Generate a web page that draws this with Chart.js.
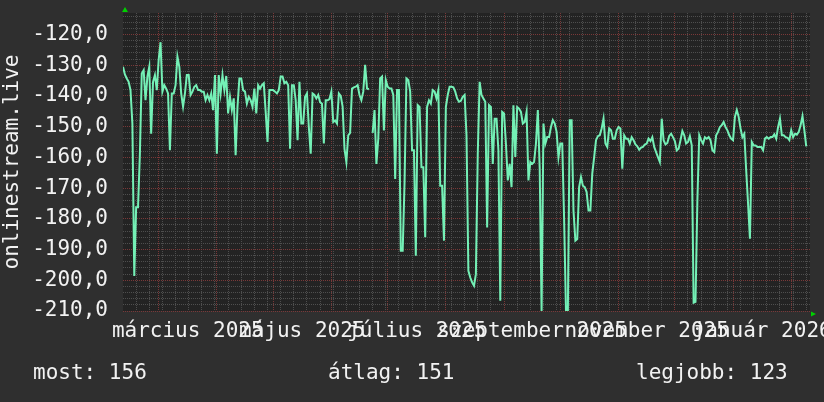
<!DOCTYPE html>
<html>
<head>
<meta charset="utf-8">
<script src="https://cdn.jsdelivr.net/npm/chart.js@4.4.0/dist/chart.umd.min.js"></script>
<style>
  html, body { margin: 0; padding: 0; background: #2f2f2f; }
  #wrap { width: 824px; height: 402px; position: relative; }
</style>
</head>
<body>
<div id="wrap"><canvas id="signalChart"></canvas></div>
<script>
// one reading per day, first one on 2025-02-10 (null = missing day)
const startDate = Date.UTC(2025, 1, 10);
const signalValues = [
  -130.5, -133.0, -134.3, -135.4, -138.1, -149.0, -198.6, -176.2, -176.2, -158.8,
  -132.7, -131.6, -141.4, -133.7, -130.5, -152.3, -135.4, -133.2, -138.1, -128.3,
  -122.5, -138.6, -136.5, -137.6, -139.2, -157.7, -139.2, -139.2, -136.5, -127.2,
  -130.5, -139.2, -143.5, -139.2, -133.2, -133.2, -139.7, -138.6, -137.0, -136.5,
  -138.1, -138.1, -138.6, -138.6, -141.4, -139.7, -141.4, -139.2, -144.6, -133.2,
  -158.8, -133.2, -139.2, -133.2, -138.1, -133.5, -145.7, -140.3, -144.6, -140.8,
  -159.3, -143.5, -134.3, -134.3, -138.1, -138.6, -142.5, -140.3, -141.4, -143.5,
  -137.6, -145.7, -136.5, -137.6, -136.5, -135.9, -145.0, -155.0, -138.1, -138.1,
  -138.1, -138.6, -139.2, -138.1, -133.7, -133.7, -135.9, -135.4, -136.5, -157.2,
  -136.5, -136.5, -141.4, -154.4, -135.4, -149.0, -149.0, -140.3, -139.2, -150.1,
  -158.8, -139.2, -139.7, -140.8, -139.7, -142.0, -142.5, -155.5, -141.4, -141.4,
  -141.0, -138.6, -148.5, -148.0, -149.0, -139.2, -140.0, -143.5, -157.2, -161.5,
  -152.8, -152.0, -137.6, -137.2, -137.0, -136.5, -139.7, -141.4, -138.6, -129.9,
  -137.6, -137.8, null, -152.0, -144.6, -162.1, -153.9, -134.3, -133.7, -151.2,
  -134.8, -137.0, -137.6, -137.6, -139.7, -167.0, -138.1, -138.1, -190.4, -190.4,
  -168.1, -134.3, -134.8, -138.6, -157.7, -157.7, -192.0, -143.0, -143.6, -163.2,
  -163.2, -186.0, -143.6, -141.4, -142.5, -138.1, -138.6, -140.8, -138.1, -169.2,
  -169.2, -187.1, -143.6, -139.7, -137.0, -137.0, -137.2, -138.6, -140.8, -141.9,
  -141.6, -140.3, -139.7, -152.8, -196.9, -199.1, -200.7, -201.8, -198.0, -158.8,
  -135.4, -139.7, -140.8, -141.9, -182.8, -143.0, -143.6, -162.1, -147.4, -147.4,
  -157.7, -206.7, -145.2, -145.7, -155.5, -167.5, -162.1, -169.7, -143.0, -159.9,
  -143.6, -144.1, -145.2, -149.0, -148.5, -145.2, -167.5, -161.5, -162.1, -161.5,
  -155.5, -144.6, -163.7, -210.0, -149.0, -155.5, -153.4, -153.4, -150.1, -147.9,
  -149.0, -151.7, -160.0, -155.5, -155.5, -180.0, -210.0, -210.0, -147.9, -147.9,
  -177.3, -187.1, -186.6, -169.7, -166.4, -169.2, -169.7, -171.3, -177.3, -177.3,
  -165.3, -160.0, -154.4, -153.1, -152.8, -150.6, -147.4, -155.5, -156.6, -150.6,
  -151.2, -153.9, -153.9, -151.2, -150.1, -150.6, -163.7, -152.8, -153.9, -153.9,
  -155.5, -153.4, -154.4, -155.8, -156.4, -157.5, -156.8, -156.6, -155.8, -155.5,
  -153.9, -154.7, -153.4, -156.6, -158.3, -159.9, -161.5, -147.4, -154.4, -155.8,
  -155.3, -153.0, -152.3, -153.4, -154.7, -157.7, -157.2, -154.4, -151.4, -152.8,
  -155.5, -155.0, -153.1, -156.1, -207.3, -207.0, -174.0, -152.8, -154.4, -155.5,
  -153.4, -153.9, -153.4, -154.4, -157.7, -158.3, -152.8, -151.7, -150.1, -149.5,
  -148.5, -150.1, -151.2, -152.8, -153.9, -154.4, -146.8, -144.6, -146.8, -150.6,
  -153.4, -152.3, -164.2, -175.0, -186.5, -155.0, -156.1, -156.1, -156.6, -156.6,
  -156.6, -157.7, -153.9, -153.4, -153.9, -153.4, -153.4, -152.5, -153.9, -150.1,
  -147.4, -152.8, -152.8, -153.4, -153.6, -154.4, -151.2, -153.4, -152.3, -152.6,
  -151.7, -149.5, -146.6, -151.2, -156.4
];

const monthLabels = ["március 2025", "május 2025", "július 2025", "szeptember 2025", "november 2025", "január 2026"];
const labelMonths = [[2025, 2], [2025, 4], [2025, 6], [2025, 8], [2025, 10], [2026, 0]]; // [year, month index]
const statLabels = ["most", "átlag", "legjobb"];
const statValues = [156, 151, 123];
const yMin = -210, yMax = -113;
const dayCount = 366;

const fontFamily = "'DejaVu Sans Mono', monospace";
const textColor = "#f2f2f2";
const redGrid = "#7a3838";
const grayGrid = "#4e4e4e";

function dayOf(y, m, d) {
  return (Date.UTC(y, m, d) - startDate) / 864e5;
}

// month starts (red lines) and mondays (gray lines)
let monthStarts = [];
for (let m = 1; m <= 13; m++) {
  let d = dayOf(2025, m, 1);
  if (d >= 0 && d <= dayCount) monthStarts.push(d);
}
let gridDays = [...monthStarts];
for (let d = dayOf(2025, 1, 17); d <= dayCount; d += 7) {
  if (!monthStarts.includes(d)) gridDays.push(d);
}
gridDays.sort((a, b) => a - b);

// labels sit in the middle of their month
let labelDays = labelMonths.map(([y, m]) => (dayOf(y, m, 1) + dayOf(y, m + 1, 1)) / 2);

let points = signalValues.map((v, i) => ({ x: i, y: v }));

const chartDecor = {
  id: "chartDecor",
  beforeDraw(chart) {
    let { ctx, chartArea: a } = chart;
    ctx.save();
    ctx.fillStyle = "#232323";
    ctx.fillRect(a.left, a.top, a.right - a.left, a.bottom - a.top);
    ctx.restore();
  },
  afterDraw(chart) {
    let { ctx, chartArea: a } = chart;
    ctx.save();
    // axis arrows
    ctx.fillStyle = "#00d000";
    ctx.beginPath();
    ctx.moveTo(a.left + 2, a.top - 6);
    ctx.lineTo(a.left - 1, a.top - 1);
    ctx.lineTo(a.left + 5, a.top - 1);
    ctx.closePath();
    ctx.fill();
    ctx.beginPath();
    ctx.moveTo(a.right + 6, a.bottom + 3);
    ctx.lineTo(a.right + 1, a.bottom + 0.5);
    ctx.lineTo(a.right + 1, a.bottom + 5.5);
    ctx.closePath();
    ctx.fill();
    // summary line under the chart
    ctx.fillStyle = textColor;
    ctx.font = "21px " + fontFamily;
    ctx.textBaseline = "middle";
    ctx.textAlign = "left";
    let xs = [33, 328, 636];
    statLabels.forEach((label, i) => {
      ctx.fillText(label + ": " + statValues[i], xs[i], 374);
    });
    ctx.restore();
  }
};

new Chart(document.getElementById("signalChart").getContext("2d"), {
  type: "line",
  data: {
    datasets: [{
      data: points,
      borderColor: "#74f0b6",
      borderWidth: 2,
      pointRadius: 0,
      tension: 0,
      spanGaps: false
    }]
  },
  options: {
    responsive: true,
    maintainAspectRatio: false,
    animation: false,
    layout: { padding: { top: 13, right: 14, left: 0, bottom: 0 } },
    plugins: {
      legend: { display: false },
      tooltip: { enabled: false }
    },
    scales: {
      x: {
        type: "linear",
        position: "bottom",
        min: 0,
        max: dayCount,
        afterBuildTicks: s => { s.ticks = gridDays.map(v => ({ value: v })); },
        afterFit: s => { s.height = 0; s.paddingLeft = 0; s.paddingRight = 0; },
        ticks: { display: false, autoSkip: false },
        grid: {
          drawTicks: false,
          color: c => monthStarts.includes(c.tick.value) ? redGrid : grayGrid
        },
        border: { display: false, dash: [1, 1] }
      },
      xLabels: {
        type: "linear",
        position: "bottom",
        min: 0,
        max: dayCount,
        afterBuildTicks: s => { s.ticks = labelDays.map(v => ({ value: v })); },
        afterFit: s => { s.height = 91; s.paddingLeft = 0; s.paddingRight = 0; },
        ticks: {
          autoSkip: false,
          maxRotation: 0,
          minRotation: 0,
          padding: 8,
          color: textColor,
          font: { family: fontFamily, size: 21 },
          callback: (v, i) => monthLabels[i]
        },
        grid: { display: false, drawTicks: false },
        border: { display: false }
      },
      y: {
        min: yMin,
        max: yMax,
        afterFit: s => { s.width = 123; s.paddingTop = 0; s.paddingBottom = 0; },
        ticks: {
          stepSize: 2,
          autoSkip: false,
          includeBounds: false,
          padding: 15,
          color: textColor,
          font: { family: fontFamily, size: 21 },
          callback: v => Math.abs(v % 10) < 1e-6 ? v.toFixed(1).replace(".", ",") : ""
        },
        grid: {
          drawTicks: false,
          color: c => Math.abs(c.tick.value % 10) < 1e-6 ? redGrid : grayGrid
        },
        border: { display: false, dash: [1, 1] },
        title: {
          display: true,
          text: "onlinestream.live",
          color: textColor,
          font: { family: fontFamily, size: 21 },
          padding: { top: 0, bottom: 0 }
        }
      }
    }
  },
  plugins: [chartDecor]
});
</script>
</body>
</html>
